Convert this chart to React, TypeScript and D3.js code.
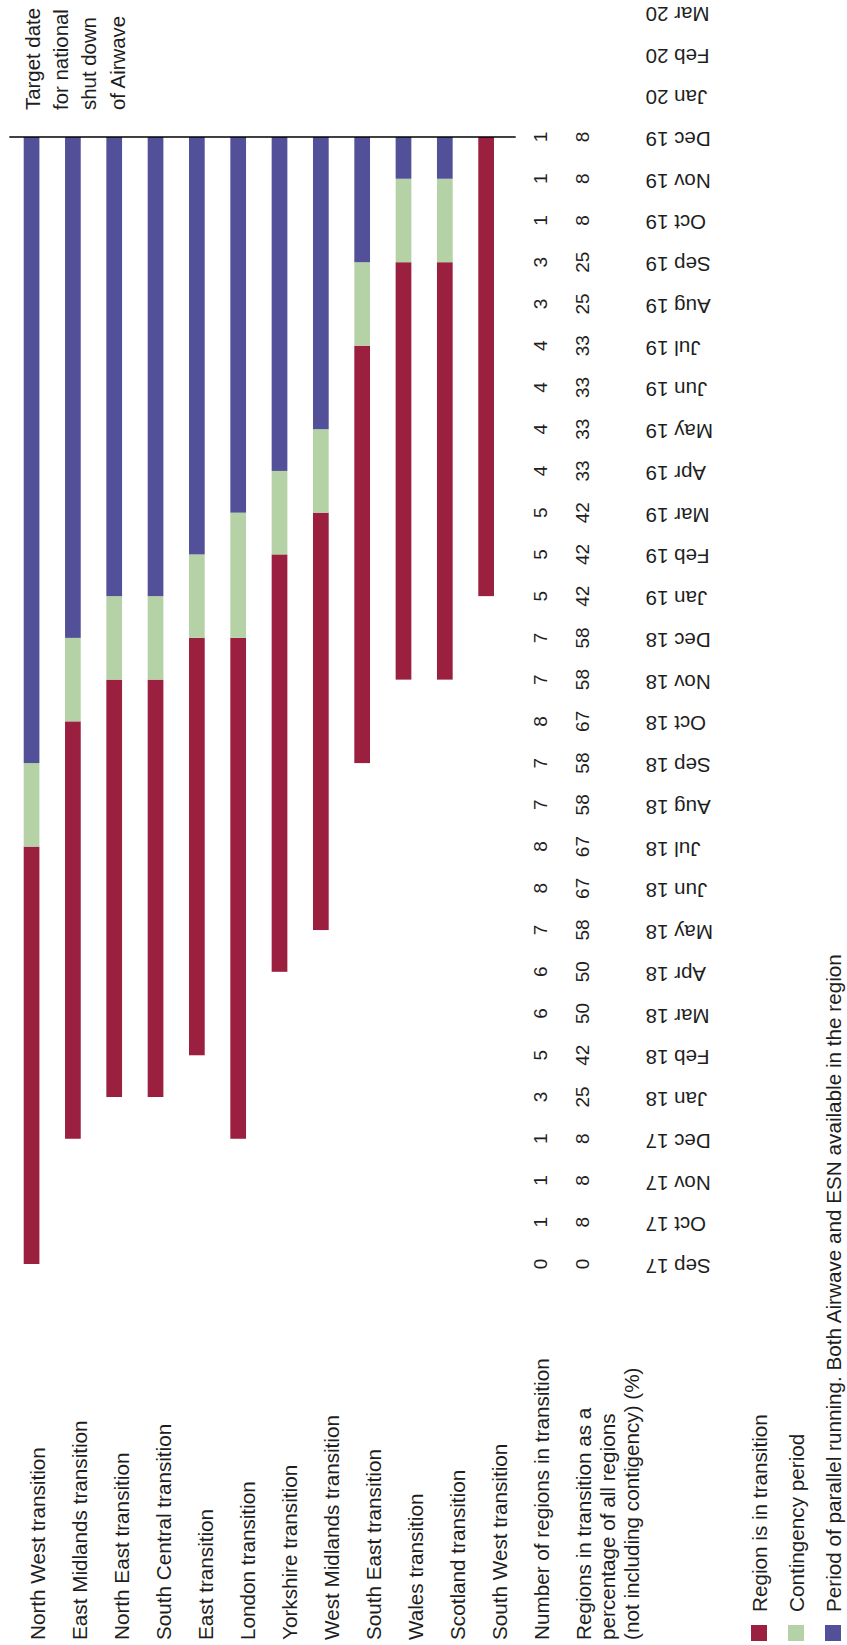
import React from "react";
import * as d3 from "d3";

// Timeline months, latest at the top
const months = [
  "Mar 20", "Feb 20", "Jan 20", "Dec 19", "Nov 19", "Oct 19", "Sep 19", "Aug 19",
  "Jul 19", "Jun 19", "May 19", "Apr 19", "Mar 19", "Feb 19", "Jan 19", "Dec 18",
  "Nov 18", "Oct 18", "Sep 18", "Aug 18", "Jul 18", "Jun 18", "May 18", "Apr 18",
  "Mar 18", "Feb 18", "Jan 18", "Dec 17", "Nov 17", "Oct 17", "Sep 17",
];

const regions = [
  "North West", "East Midlands", "North East", "South Central", "East", "London",
  "Yorkshire", "West Midlands", "South East", "Wales", "Scotland", "South West",
];

const transitionStart = [
  "Sep 17", "Dec 17", "Jan 18", "Jan 18", "Feb 18", "Dec 17",
  "Apr 18", "May 18", "Sep 18", "Nov 18", "Nov 18", "Jan 19",
];
const contingencyStart = [
  "Jul 18", "Oct 18", "Nov 18", "Nov 18", "Dec 18", "Dec 18",
  "Feb 19", "Mar 19", "Jul 19", "Sep 19", "Sep 19", null,
];
const parallelStart = [
  "Sep 18", "Dec 18", "Jan 19", "Jan 19", "Feb 19", "Mar 19",
  "Apr 19", "May 19", "Sep 19", "Nov 19", "Nov 19", null,
];
const shutdownMonth = "Dec 19";

// Table rows, Sep 17 .. Dec 19
const tableMonths = [
  "Sep 17", "Oct 17", "Nov 17", "Dec 17", "Jan 18", "Feb 18", "Mar 18", "Apr 18",
  "May 18", "Jun 18", "Jul 18", "Aug 18", "Sep 18", "Oct 18", "Nov 18", "Dec 18",
  "Jan 19", "Feb 19", "Mar 19", "Apr 19", "May 19", "Jun 19", "Jul 19", "Aug 19",
  "Sep 19", "Oct 19", "Nov 19", "Dec 19",
];
const regionsInTransition = [
  0, 1, 1, 1, 3, 5, 6, 6, 7, 8, 8, 7, 7, 8, 7, 7, 5, 5, 5, 4, 4, 4, 4, 3, 3, 1, 1, 1,
];
const percentInTransition = [
  0, 8, 8, 8, 25, 42, 50, 50, 58, 67, 67, 58, 58, 67, 58, 58, 42, 42, 42, 33, 33, 33, 33, 25, 25, 8, 8, 8,
];

const legendItems = [
  { label: "Region is in transition", key: "transition" },
  { label: "Contingency period", key: "contingency" },
  { label: "Period of parallel running. Both Airwave and ESN available in the region", key: "parallel" },
];

const colors: Record<string, string> = {
  transition: "#9b1f3f",
  contingency: "#b5d2a6",
  parallel: "#525098",
};

const FONT = "'Liberation Sans', Arial, Helvetica, sans-serif";
const TEXT = "#1e1e1e";

export default function App() {
  const W = 847;
  const H = 1645;
  const step = 41.74;
  const top = 137;
  const bottom = top + 27 * step;

  const y = d3.scalePoint<string>().domain(months).range([top - 3 * step, bottom]);
  const x = d3.scaleBand<string>().domain(regions).range([23.7, 494]).paddingInner(0.62).paddingOuter(0);

  const rowLabels = [...regions.map((r) => `${r} transition`), "Number of regions in transition", "percent"];
  const row = d3.scalePoint<string>().domain(rowLabels).range([45, 45 + 13 * 42]);

  const segments: { region: string; key: string; from: string; to: string }[] = [];
  regions.forEach((r, i) => {
    const c = contingencyStart[i];
    const p = parallelStart[i];
    segments.push({ region: r, key: "transition", from: transitionStart[i], to: c ?? shutdownMonth });
    if (c && p) segments.push({ region: r, key: "contingency", from: c, to: p });
    if (p) segments.push({ region: r, key: "parallel", from: p, to: shutdownMonth });
  });

  const labelStartY = 1640;
  const countX = row("Number of regions in transition")! - 2;
  const pctX = row("percent")! - 2;
  const pctLines = ["Regions in transition as a", "percentage of all regions", "(not including contigency) (%)"];
  const annotation = ["Target date", "for national", "shut down", "of Airwave"];
  const legendX = d3.scalePoint<string>().domain(legendItems.map((d) => d.key)).range([767, 841]);

  return (
    <svg
      width={W}
      height={H}
      viewBox={`0 0 ${W} ${H}`}
      style={{ position: "absolute", left: 0, top: 0, background: "#fff" }}
      fontFamily={FONT}
    >
      <rect width={W} height={H} fill="#fff" />

      {/* stacked phase bars */}
      {segments.map((s, i) => (
        <rect
          key={i}
          x={x(s.region)}
          width={x.bandwidth()}
          y={y(s.to)}
          height={y(s.from)! - y(s.to)!}
          fill={colors[s.key]}
        />
      ))}

      {/* shutdown line */}
      <line x1={9.3} x2={515.7} y1={y(shutdownMonth)} y2={y(shutdownMonth)} stroke="#000" strokeWidth={1.4} />

      {/* annotation */}
      {annotation.map((t, i) => (
        <text
          key={t}
          transform={`translate(${39.5 + i * 28.4},110) rotate(-90)`}
          fontSize={20.4}
          fill={TEXT}
        >
          {t}
        </text>
      ))}

      {/* region labels */}
      {regions.map((r) => (
        <text
          key={r}
          transform={`translate(${row(`${r} transition`)},${labelStartY}) rotate(-90)`}
          fontSize={20.7}
          fill={TEXT}
        >
          {`${r} transition`}
        </text>
      ))}
      <text
        transform={`translate(${row("Number of regions in transition")},${labelStartY}) rotate(-90)`}
        fontSize={20.7}
        fill={TEXT}
      >
        Number of regions in transition
      </text>
      {pctLines.map((t, i) => (
        <text
          key={t}
          transform={`translate(${row("percent")! + i * 24},${labelStartY}) rotate(-90)`}
          fontSize={20.7}
          fill={TEXT}
        >
          {t}
        </text>
      ))}

      {/* table values */}
      {tableMonths.map((m, i) => (
        <g key={m}>
          <text
            transform={`translate(${countX},${y(m)}) rotate(-90)`}
            textAnchor="middle"
            fontSize={19}
            fill={TEXT}
          >
            {regionsInTransition[i]}
          </text>
          <text
            transform={`translate(${pctX},${y(m)}) rotate(-90)`}
            textAnchor="middle"
            fontSize={19}
            fill={TEXT}
          >
            {percentInTransition[i]}
          </text>
        </g>
      ))}

      {/* month labels */}
      {months.map((m) => (
        <text
          key={m}
          transform={`translate(645.7,${y(m)! - 5}) rotate(180)`}
          textAnchor="end"
          fontSize={20.5}
          fill={TEXT}
        >
          {m}
        </text>
      ))}

      {/* legend */}
      {legendItems.map((d) => (
        <g key={d.key}>
          <rect x={legendX(d.key)! - 16} y={1625} width={16} height={16} fill={colors[d.key]} />
          <text
            transform={`translate(${legendX(d.key)},1612) rotate(-90)`}
            fontSize={20.7}
            fill={TEXT}
          >
            {d.label}
          </text>
        </g>
      ))}
    </svg>
  );
}
